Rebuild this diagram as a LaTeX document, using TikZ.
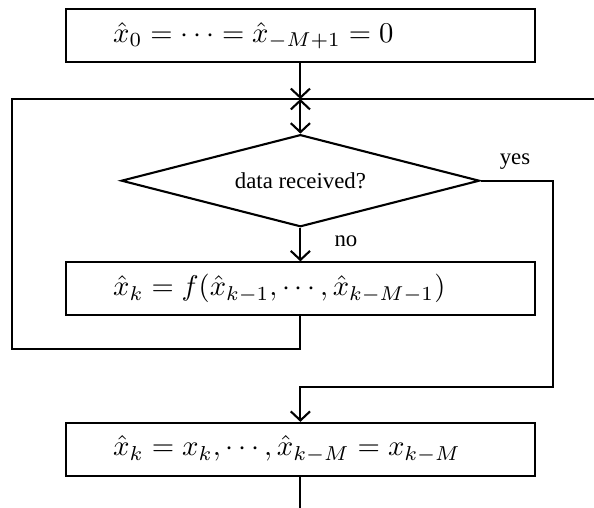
\documentclass[tikz,border=0pt]{standalone}
\usepackage[no-math]{fontspec}
\usepackage{graphicx}
\newfontfamily\txtfont{Liberation Serif}
\usetikzlibrary{arrows.meta,shapes.geometric}
\tikzset{
  >={Straight Barb[length=3pt,width=6.4pt]},
  box/.style={draw, rectangle, minimum width=156.4pt, minimum height=17.6pt,
    inner xsep=15.8pt, inner ysep=0pt, text width=124.8pt, align=left},
  dia/.style={draw, diamond, aspect=3.89, minimum width=119.4pt, minimum height=30.7pt,
    inner sep=0pt, font=\txtfont\fontsize{7.6}{9}\selectfont},
  lab/.style={inner sep=0pt, font=\txtfont\fontsize{7.6}{9}\selectfont}
}
\begin{document}
\begin{tikzpicture}[x=0.33333pt, y=-0.33333pt, line width=0.7pt]
  \useasboundingbox (0,0) rectangle (594,508);
  \node[box] (init) at (300.4,35.5) {\scalebox{0.955}{$\hat{x}_0 = \cdots = \hat{x}_{-M+1} = 0$}};
  \coordinate (J) at (300.4,99);
  \node[dia] (dec) at (300.4,180.7) {data received?\hspace{4pt}};
  \node[box] (pred) at (300.4,288.8) {\scalebox{0.952}{$\hat{x}_k = f(\hat{x}_{k-1}, \cdots, \hat{x}_{k-M-1})$}};
  \node[box] (upd) at (300.4,449.3) {\scalebox{0.96}{$\hat{x}_k = x_k, \cdots, \hat{x}_{k-M} = x_{k-M}$}};
  \coordinate (Lb) at (12.3,349.3);
  \coordinate (R) at (600,99);
  \coordinate (Yc) at (553.3,386.7);
  \coordinate (End) at (300.4,515);
  \node[lab] (yeslab) at (515,161.5) {yes};
  \node[lab] (nolab) at (346,241.5) {no};

  \draw[->] (init) -- (J);
  \draw[<->] (J) -- (dec.north);
  \draw[->] (dec.south) -- (pred.north);
  \draw (pred.south) |- (Lb) |- (R);
  \draw[->] (dec.east) -| (Yc) -| (upd.north);
  \draw (upd.south) -- (End);
\end{tikzpicture}
\end{document}
